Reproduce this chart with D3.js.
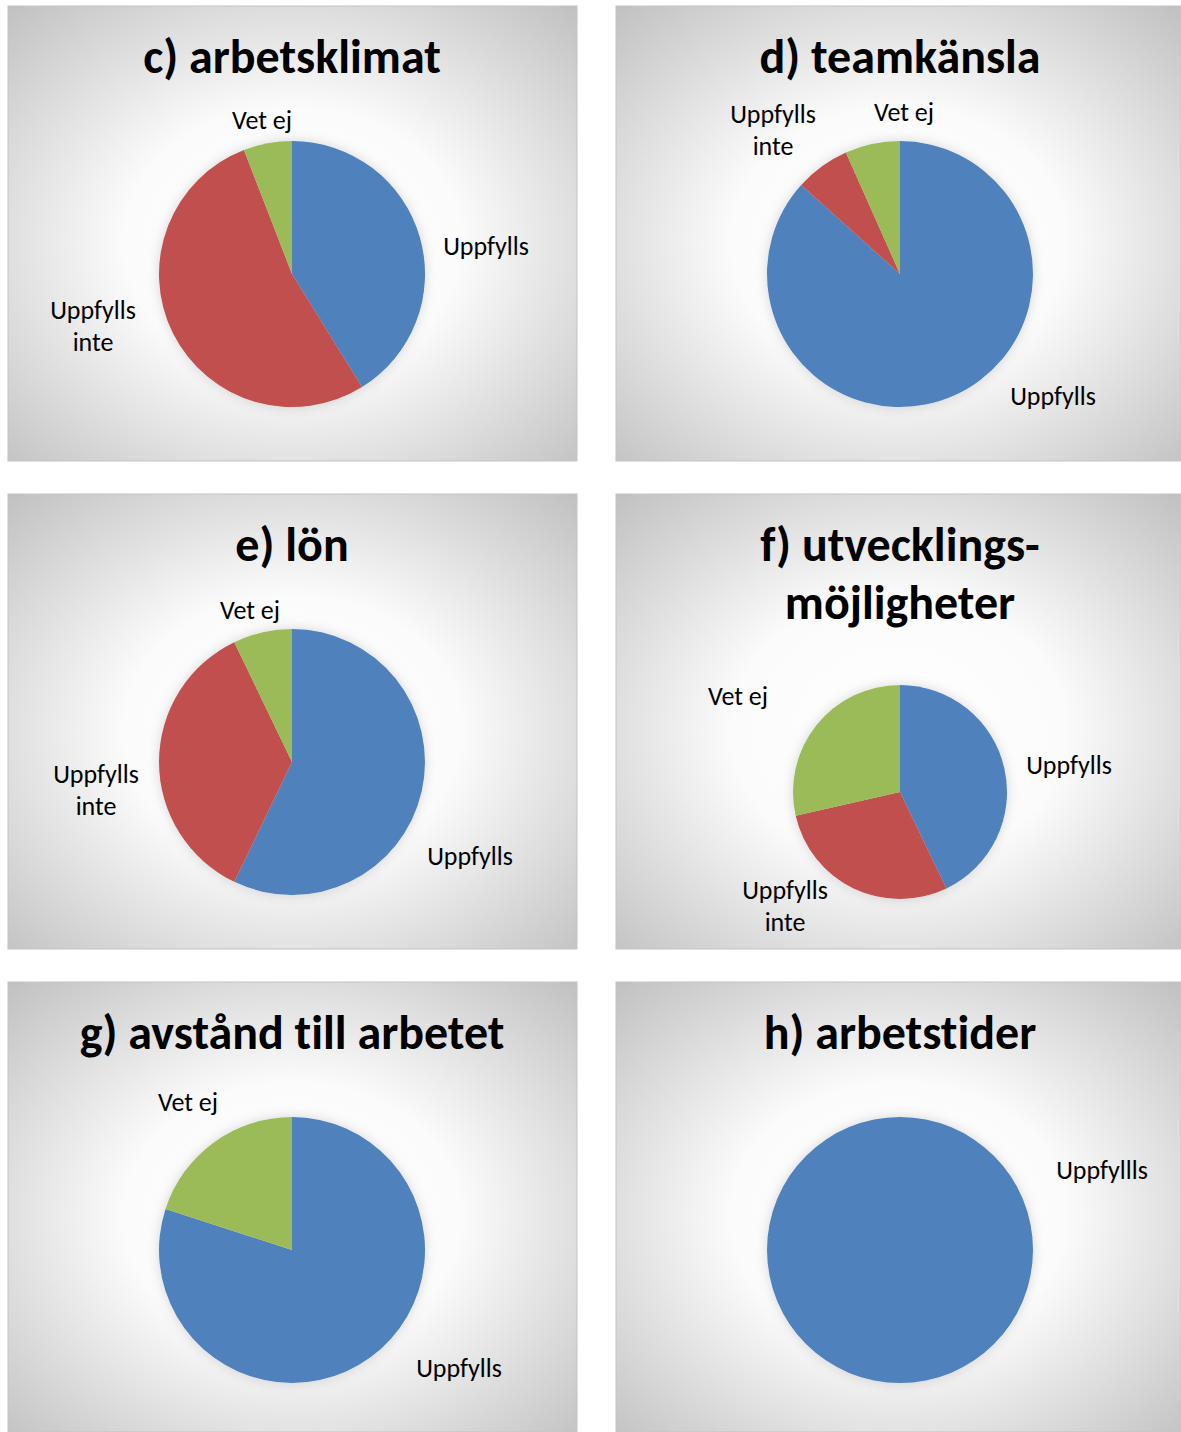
<!DOCTYPE html>
<meta charset="utf-8">
<title>Pie charts</title>

<style>
    body { margin: 0; background: #fff; }
    text { font-family: Carlito, Lato, "Open Sans", sans-serif; fill: #000; font-variant-ligatures: none; }
    .title { font-weight: bold; font-size: 48px; text-anchor: middle; }
    .label { font-size: 26px; text-anchor: middle; }
</style>

<body>
<script src="https://d3js.org/d3.v7.min.js"></script>

<script>
// categories and values
var categories = ["Uppfylls", "Uppfylls inte", "Vet ej"];
var colors = ["#4F81BD", "#C0504D", "#9BBB59"];

var arbetsklimat = [7, 9, 1];
var teamkansla = [13, 1, 1];
var lon = [8, 5, 1];
var utveckling = [3, 2, 2];
var avstand = [4, 0, 1];
var arbetstider = [1, 0, 0];

var titles = [
    ["c) arbetsklimat"],
    ["d) teamkänsla"],
    ["e) lön"],
    ["f) utvecklings-", "möjligheter"],
    ["g) avstånd till arbetet"],
    ["h) arbetstider"]
];
var seriesList = [arbetsklimat, teamkansla, lon, utveckling, avstand, arbetstider];
// the last chart has its own label spelling
var labelNames = [categories, categories, categories, categories, categories, ["Uppfyllls", "", ""]];

// layout of each panel: box, pie centre, radius, title baselines, label spots (relative to centre)
var layout = [
    {x: 8,   y: 6,   w: 569, h: 455, cx: 292, cy: 274,  r: 133, ty: [73],
     lab: [[194, -28], [-199, 52], [-30, -154]]},
    {x: 616, y: 6,   w: 565, h: 455, cx: 900, cy: 274,  r: 133, ty: [73],
     lab: [[153, 122], [-127, -144], [4, -162]]},
    {x: 8,   y: 494, w: 569, h: 455, cx: 292, cy: 762,  r: 133, ty: [561],
     lab: [[178, 94], [-196, 28], [-42, -152]]},
    {x: 616, y: 494, w: 565, h: 455, cx: 900, cy: 792,  r: 107, ty: [561, 619],
     lab: [[169, -27], [-115, 114], [-162, -96]]},
    {x: 8,   y: 982, w: 569, h: 450, cx: 292, cy: 1250, r: 133, ty: [1049],
     lab: [[167, 118], [0, 0], [-104, -148]]},
    {x: 616, y: 982, w: 565, h: 450, cx: 900, cy: 1250, r: 133, ty: [1049],
     lab: [[202, -80], [0, 0], [0, 0]]}
];

var svg = d3.select("body").append("svg")
    .attr("width", 1181)
    .attr("height", 1432);

var defs = svg.append("defs");

// soft panel background
var grad = defs.append("radialGradient")
    .attr("id", "bg")
    .attr("cx", "50%").attr("cy", "52%").attr("r", "74%");
grad.append("stop").attr("offset", "0%").attr("stop-color", "#ffffff");
grad.append("stop").attr("offset", "40%").attr("stop-color", "#fbfbfb");
grad.append("stop").attr("offset", "100%").attr("stop-color", "#bebebe");

// glow around the pie
var shadow = defs.append("filter")
    .attr("id", "shadow")
    .attr("x", "-30%").attr("y", "-30%").attr("width", "160%").attr("height", "160%");
shadow.append("feGaussianBlur").attr("in", "SourceAlpha").attr("stdDeviation", 6).attr("result", "blur");
shadow.append("feFlood").attr("flood-color", "#000").attr("flood-opacity", 0.15);
shadow.append("feComposite").attr("in2", "blur").attr("operator", "in").attr("result", "sh");
var merge = shadow.append("feMerge");
merge.append("feMergeNode").attr("in", "sh");
merge.append("feMergeNode").attr("in", "SourceGraphic");

var pie = d3.pie().sort(null).value(function(d) { return d; });

layout.forEach(function(p, i) {
    var g = svg.append("g");

    g.append("rect")
        .attr("x", p.x).attr("y", p.y)
        .attr("width", p.w).attr("height", p.h)
        .attr("fill", "url(#bg)")
        .attr("stroke", "#c4c4c4")
        .attr("stroke-width", 1);

    titles[i].forEach(function(t, k) {
        g.append("text")
            .attr("class", "title")
            .attr("x", p.cx)
            .attr("y", p.ty[k])
            .text(t);
    });

    var arc = d3.arc().innerRadius(0).outerRadius(p.r);
    var slices = pie(seriesList[i]);

    var pg = g.append("g")
        .attr("transform", "translate(" + p.cx + "," + p.cy + ")");

    pg.append("g")
        .attr("filter", "url(#shadow)")
        .selectAll("path")
        .data(slices.filter(function(d) { return d.value > 0; }))
        .enter().append("path")
        .attr("d", arc)
        .attr("fill", function(d) { return colors[d.index]; });

    // labels; only the long one wraps, like the original
    slices.forEach(function(d) {
        if (d.value <= 0) return;
        var name = labelNames[i][d.index];
        var pos = p.lab[d.index];
        var lines = name.length > 10 ? name.split(" ") : [name];
        var lh = 32;
        var y0 = pos[1] - (lines.length - 1) * lh / 2 + 9;
        lines.forEach(function(ln, k) {
            pg.append("text")
                .attr("class", "label")
                .attr("x", pos[0])
                .attr("y", y0 + k * lh)
                .text(ln);
        });
    });
});
</script>
</body>
